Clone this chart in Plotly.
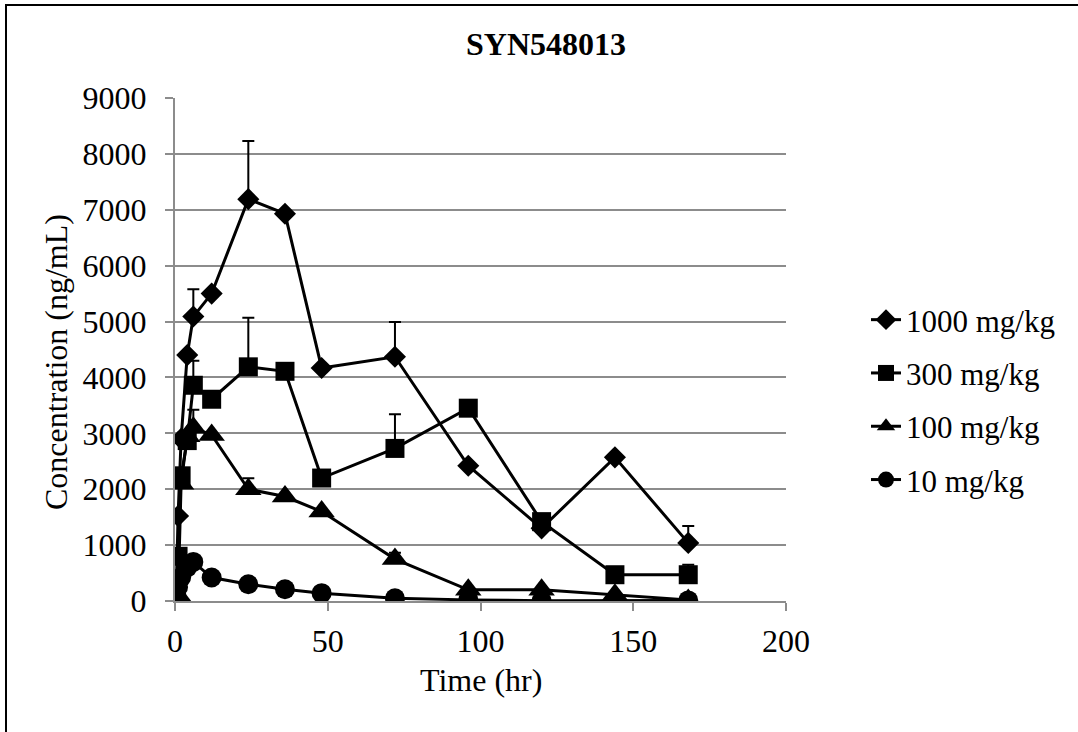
import plotly.graph_objects as go

# ---- data ----
time_hr = [0, 0.5, 1, 2, 4, 6, 12, 24, 36, 48, 72, 96, 120, 144, 168]

conc_1000 = [0, 350, 1520, 2900, 4400, 5090, 5500, 7190, 6930, 4170, 4370, 2420, 1300, 2570, 1040]
err_1000 = [0, 0, 0, 0, 0, 490, 0, 1040, 0, 0, 620, 0, 0, 0, 300]

conc_300 = [0, 350, 800, 2240, 2870, 3860, 3610, 4190, 4110, 2200, 2730, 3450, 1420, 470, 470]
err_300 = [0, 0, 0, 0, 0, 440, 0, 880, 0, 0, 610, 0, 0, 0, 180]

conc_100 = [0, 30, 100, 2100, 2950, 3100, 2970, 2000, 1870, 1600, 750, 200, 200, 110, 20]
err_100 = [0, 0, 0, 0, 0, 320, 0, 195, 0, 0, 115, 0, 0, 0, 0]

conc_10 = [0, 80, 250, 420, 600, 700, 420, 300, 210, 140, 50, 20, 5, 5, 10]
err_10 = [0] * 15

series_names = ["1000 mg/kg", "300 mg/kg", "100 mg/kg", "10 mg/kg"]
series_values = [conc_1000, conc_300, conc_100, conc_10]
series_errors = [err_1000, err_300, err_100, err_10]
series_symbols = ["diamond", "square", "triangle-up", "circle"]
series_sizes = [17, 19, 23, 20]

title_text = "SYN548013"
x_title = "Time (hr)"
y_title = "Concentration (ng/mL)"

FONT = "Liberation Serif, Times New Roman, serif"
GRID = "#8c8c8c"
FS = 32

fig = go.Figure()
for name, vals, errs, sym, sz in zip(series_names, series_values, series_errors,
                                     series_symbols, series_sizes):
    fig.add_trace(go.Scatter(
        x=time_hr, y=vals, name=name, mode="lines+markers",
        legendgroup=name,
        line=dict(color="black", width=3),
        marker=dict(symbol=sym, size=sz, color="black", line=dict(width=0)),
        error_y=dict(type="data", symmetric=False, array=errs,
                     arrayminus=[0] * len(errs), color="black",
                     thickness=2, width=6),
    ))

L, R, T, B = 175, 292, 98, 131
W, H = 1078, 732
pw, ph = W - L - R, H - T - B

def px_x(p):
    return (p - L) / pw

def px_y(p):
    return (H - B - p) / ph

fig.update_layout(
    width=W, height=H,
    margin=dict(l=L, r=R, t=T, b=B, pad=0),
    paper_bgcolor="white", plot_bgcolor="white",
    font=dict(family=FONT, size=FS, color="black"),
    title=dict(text="<b>" + title_text + "</b>", xref="container", yref="container",
               x=546 / W, xanchor="center", y=1 - 44 / H, yanchor="middle",
               font=dict(family=FONT, size=FS, color="black")),
    showlegend=True,
    legend=dict(x=px_x(866), xanchor="left", y=px_y(400), yanchor="middle",
                font=dict(family=FONT, size=FS - 1, color="black"),
                tracegroupgap=10, bgcolor="rgba(0,0,0,0)"),
    xaxis=dict(range=[0, 200], dtick=50, tick0=0, showgrid=False,
               showline=True, linecolor=GRID, linewidth=2,
               ticks="outside", ticklen=8, tickwidth=2, tickcolor=GRID,
               ticklabelstandoff=3, zeroline=False,
               tickfont=dict(family=FONT, size=FS, color="black")),
    yaxis=dict(range=[0, 9000], dtick=1000, tick0=0, showgrid=True,
               gridcolor=GRID, gridwidth=2,
               showline=True, linecolor=GRID, linewidth=2,
               ticks="outside", ticklen=8, tickwidth=2, tickcolor=GRID,
               ticklabelstandoff=12, zeroline=False,
               tickfont=dict(family=FONT, size=FS, color="black")),
    shapes=[dict(type="rect", xref="paper", yref="paper",
                 x0=px_x(6), x1=px_x(1090), y0=px_y(745), y1=px_y(5),
                 line=dict(color="black", width=2), fillcolor="rgba(0,0,0,0)",
                 layer="below")],
    annotations=[
        dict(text=x_title, xref="paper", yref="paper", x=0.5, y=px_y(680),
             xanchor="center", yanchor="middle", showarrow=False,
             font=dict(family=FONT, size=FS, color="black")),
        dict(text=y_title, xref="paper", yref="paper", x=px_x(56), y=px_y(362),
             xanchor="center", yanchor="middle", showarrow=False, textangle=-90,
             font=dict(family=FONT, size=FS, color="black")),
    ],
)

fig.write_html("out.html")
